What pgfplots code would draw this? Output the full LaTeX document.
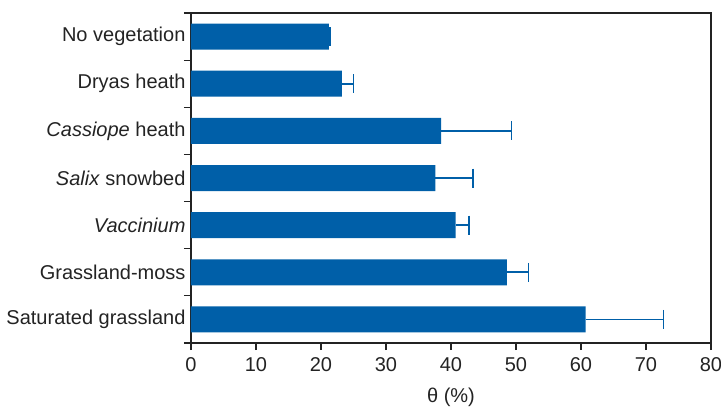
\documentclass[border=0pt]{standalone}
\usepackage{fontspec}
\setmainfont{Liberation Sans}
\usepackage{pgfplots}
\usepackage{pgfplotstable}
\pgfplotsset{compat=1.18}
\definecolor{barblue}{RGB}{0,95,168}
\definecolor{axgray}{RGB}{35,35,35}
\pgfplotstableread{
y v e
0 60.7 12.0
1 48.6 3.3
2 40.7 2.1
3 37.6 5.8
4 38.5 10.8
5 23.2 1.8
6 21.2 0.2
}\datatab
\begin{document}
\begin{tikzpicture}[font=\fontsize{20}{24}\selectfont, text=axgray]
\path[use as bounding box] (-191pt,-65pt) rectangle (530pt,343pt);
\begin{axis}[
  at={(0,0)}, anchor=south west,
  scale only axis, width=520pt, height=330pt,
  xbar, bar width=26pt,
  xmin=0, xmax=80, ymin=-0.5, ymax=6.5,
  xtick={0,10,...,80},
  ytick={0.5,1.5,...,6.5},
  yticklabels={Saturated grassland, Grassland-moss, \textit{Vaccinium}, \textit{Salix} snowbed, \textit{Cassiope} heath, Dryas heath, No vegetation},
  yticklabel style={yshift=-23.57pt, xshift=5pt},
  xticklabel style={yshift=-4pt},
  extra y ticks={-0.5},
  extra y tick labels={},
  /pgf/number format/assume math mode=true,
  axis line style={draw=axgray, line width=1.2pt},
  major tick length=7pt,
  tick align=outside,
  xtick pos=bottom,
  ytick pos=left,
  tick style={draw=axgray, line width=1.2pt},
  xlabel={θ (\%)},
  xlabel style={font=\fontsize{20}{24}\selectfont, yshift=-9pt},
]
\addplot[xbar, fill=barblue, draw=none,
  error bars/.cd, x dir=plus, x explicit,
  error mark=|,
  error bar style={line width=1.6pt, draw=barblue},
  error mark options={mark size=9.5pt, line width=1.6pt, draw=barblue}]
  table[x=v, y=y, x error=e] {\datatab};
\end{axis}
\end{tikzpicture}
\end{document}
